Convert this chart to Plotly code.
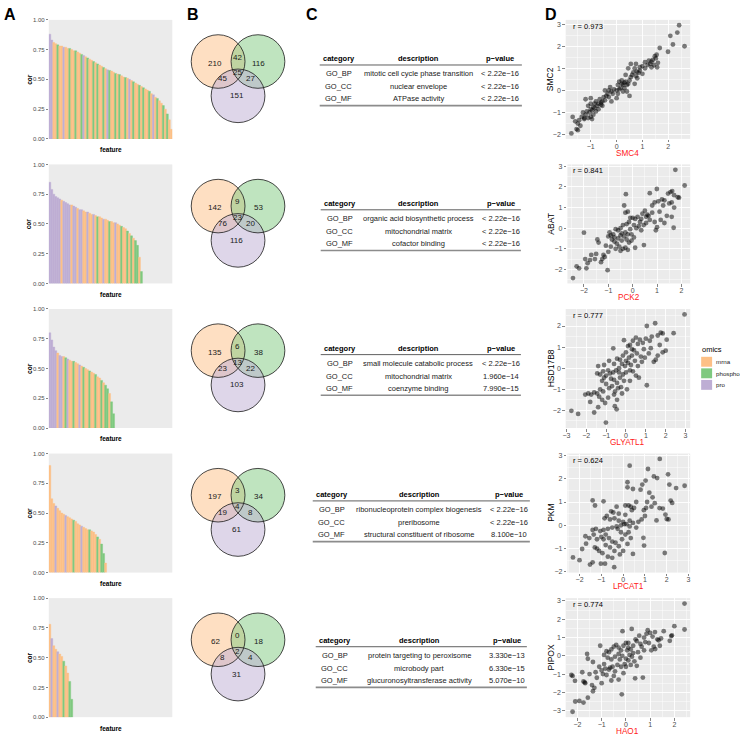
import plotly.graph_objects as go

W, H = 740, 738
FONT = "Liberation Sans, Arial, Helvetica, sans-serif"

# ---------------- data ----------------
omics_levels = ["mrna", "phospho", "pro"]
omics_colors = ["#FDC086", "#7FC97F", "#BEAED4"]

# Panel A: sorted correlations (one bar per group of features), omics code m=mrna g=phospho r=pro
cor_row1 = [0.88, 0.83, 0.81, 0.80, 0.79, 0.78, 0.78, 0.77, 0.77, 0.76,
            0.76, 0.75, 0.74, 0.74, 0.73, 0.72, 0.71, 0.70, 0.69, 0.68,
            0.67, 0.66, 0.65, 0.64, 0.63, 0.62, 0.61, 0.60, 0.59, 0.58,
            0.575, 0.57, 0.56, 0.55, 0.545, 0.54, 0.53, 0.52, 0.515, 0.51,
            0.50, 0.49, 0.48, 0.47, 0.46, 0.45, 0.44, 0.43, 0.42, 0.41,
            0.40, 0.38, 0.37, 0.35, 0.34, 0.32, 0.30, 0.28, 0.25, 0.21,
            0.16, 0.08]
omics_row1 = "rrmmgmmrmmgmmgmmgrmgmmgmgmmgmrgmmgmgmmgmrmgmmgmgmmgmrmgmmgmgmm"

cor_row2 = [0.85, 0.79, 0.75, 0.73, 0.72, 0.71, 0.70, 0.69, 0.68, 0.67,
            0.66, 0.66, 0.65, 0.64, 0.63, 0.62, 0.62, 0.61, 0.60, 0.60,
            0.59, 0.58, 0.58, 0.57, 0.56, 0.56, 0.55, 0.54, 0.54, 0.53,
            0.52, 0.52, 0.51, 0.51, 0.50, 0.49, 0.48, 0.47, 0.46, 0.44,
            0.42, 0.40, 0.38, 0.36, 0.32, 0.22, 0.10]
omics_row2 = "rrrrrrmrrrrmrrmrrmmrmmrmgmmrmmgmmrmmgmmgmgmggmg"

cor_row3 = [0.80, 0.74, 0.68, 0.65, 0.63, 0.61, 0.60, 0.60, 0.59, 0.58,
            0.57, 0.56, 0.56, 0.55, 0.54, 0.53, 0.52, 0.51, 0.50, 0.49,
            0.48, 0.47, 0.46, 0.45, 0.43, 0.42, 0.40, 0.38, 0.36, 0.33,
            0.29, 0.22, 0.12]
omics_row3 = "rrrrmrrmgrmmgmmrmgmmgmmgmmgmggmgg"

cor_row4 = [0.90, 0.62, 0.58, 0.56, 0.54, 0.52, 0.50, 0.49, 0.48, 0.47,
            0.46, 0.45, 0.44, 0.43, 0.41, 0.40, 0.39, 0.38, 0.37, 0.36,
            0.36, 0.35, 0.34, 0.32, 0.30, 0.28, 0.24, 0.16, 0.08]
omics_row4 = "mmmrmmmmrmmmgmmmrmmmgmmmgmggm"

cor_row5 = [0.78, 0.66, 0.60, 0.57, 0.55, 0.53, 0.51, 0.47, 0.43, 0.37,
            0.30, 0.15]
omics_row5 = "mrmmrmmgmmgg"

# Panel B: Venn counts [mrna only, mrna&phospho, phospho only, all, mrna&pro, phospho&pro, pro only]
venn_row1 = [210, 42, 116, 25, 45, 27, 151]
venn_row2 = [142, 9, 53, 23, 76, 20, 116]
venn_row3 = [135, 6, 38, 13, 23, 22, 103]
venn_row4 = [197, 3, 34, 4, 19, 8, 61]
venn_row5 = [62, 0, 18, 2, 8, 4, 31]

# Panel C: GO enrichment tables
go_header = ["category", "description", "p\u2212value"]
go_categories = ["GO_BP", "GO_CC", "GO_MF"]
go_desc_row1 = ["mitotic cell cycle phase transition", "nuclear envelope", "ATPase activity"]
go_p_row1 = ["< 2.22e\u221216", "< 2.22e\u221216", "< 2.22e\u221216"]
go_desc_row2 = ["organic acid biosynthetic process", "mitochondrial matrix", "cofactor binding"]
go_p_row2 = ["< 2.22e\u221216", "< 2.22e\u221216", "< 2.22e\u221216"]
go_desc_row3 = ["small molecule catabolic process", "mitochondrial matrix", "coenzyme binding"]
go_p_row3 = ["< 2.22e\u221216", "1.960e\u221214", "7.990e\u221215"]
go_desc_row4 = ["ribonucleoprotein complex biogenesis", "preribosome", "structural constituent of ribosome"]
go_p_row4 = ["< 2.22e\u221216", "< 2.22e\u221216", "8.100e\u221210"]
go_desc_row5 = ["protein targeting to peroxisome", "microbody part", "glucuronosyltransferase activity"]
go_p_row5 = ["3.330e\u221213", "6.330e\u221215", "5.070e\u221210"]

# Panel D: scatter examples
scatter_x_names = ["SMC4", "PCK2", "GLYATL1", "LPCAT1", "HAO1"]
scatter_y_names = ["SMC2", "ABAT", "HSD17B8", "PKM", "PIPOX"]
scatter_r = ["0.973", "0.841", "0.777", "0.624", "0.774"]

pts_smc4_smc2 = [(2.42,2.95),(2.35,2.62),(2.08,2.47),(2.63,2.0),(2.18,2.08),(1.99,1.75),(1.67,1.92),(1.55,1.62),
    (1.48,1.55),(1.52,1.45),(1.4,1.38),(1.35,1.3),(1.6,1.25),(1.57,1.05),(1.3,1.2),(1.2,1.15),(1.1,1.28),(1.0,1.1),
    (0.9,1.05),(0.75,1.2),(0.7,1.0),(0.78,0.85),(0.85,0.8),(0.65,0.82),(0.6,0.7),(0.55,0.6),(0.75,0.65),(0.8,0.55),
    (0.7,0.3),(0.5,0.45),(0.45,0.3),(0.4,0.25),(0.35,0.4),(0.3,0.35),(0.25,0.25),(0.2,0.3),(0.15,0.1),(0.1,0.05),
    (0.25,-0.05),(0.4,-0.05),(0.5,-0.25),(0.05,-0.15),(0.0,0.0),(-0.1,0.05),(-0.2,-0.05),(-0.3,0.0),(-0.35,-0.15),
    (-0.4,-0.25),(-0.5,-0.3),(-0.45,-0.45),(-0.55,-0.5),(-0.6,-0.55),(-0.65,-0.4),(-0.7,-0.6),(-0.75,-0.7),(-0.8,-0.5),
    (-0.85,-0.8),(-0.9,-0.75),(-0.95,-0.9),(-1.0,-0.85),(-1.05,-1.0),(-1.1,-0.7),(-1.15,-0.95),(-1.2,-1.1),(-1.0,-1.2),
    (-0.9,-1.1),(-1.25,-1.3),(-1.3,-1.0),(-1.35,-1.2),(-1.45,-1.35),(-1.5,-1.5),(-1.4,-1.6),(-1.55,-1.75),(-1.6,-1.4),
    (-1.7,-1.2),(-1.75,-1.95),(-1.5,-1.8),(-0.8,-0.95),(-0.7,-0.85),(-0.6,-0.65),(-1.2,-0.4),(-1.0,-0.35),(-0.3,-0.3),
    (-0.2,-0.5),(0.0,-0.35),(0.1,0.4),(0.2,0.45),(0.35,0.7),(0.45,1.0),(0.55,1.2),(0.9,0.9),(1.0,0.75),(1.1,1.0),
    (1.35,1.05),(1.45,1.15),(1.25,1.35),(-0.25,0.15),(-0.45,0.0),(0.05,0.25),(0.3,0.1),(-0.15,-0.15),(-0.55,-0.7),
    (-0.85,-0.6),(-1.0,-0.6),(-1.1,-1.25),(-1.25,-1.25),(-0.95,-1.3)]

pts_pck2_abat = [(1.75,2.83),(2.13,2.07),(-0.28,1.65),(0.99,1.9),(1.55,1.75),(1.62,1.8),(1.7,1.6),(1.85,1.5),(1.9,1.48),
    (1.45,1.68),(1.3,1.35),(1.2,1.4),(1.05,1.3),(0.9,1.25),(0.7,1.7),(0.8,1.1),(1.6,1.25),(1.5,1.2),(1.7,1.0),(1.6,0.55),
    (1.68,0.02),(1.15,0.4),(1.3,0.25),(0.95,-0.1),(1.1,0.8),(0.6,0.65),(0.55,0.55),(0.65,0.6),(0.5,0.85),(0.4,0.7),
    (0.35,0.45),(0.3,0.3),(0.25,0.1),(0.45,0.15),(0.7,0.4),(0.8,0.75),(0.2,0.55),(0.1,0.45),(0.0,0.5),(-0.1,0.5),
    (-0.2,0.8),(-0.3,0.75),(-0.35,1.1),(-0.15,0.3),(-0.25,0.2),(-0.4,0.15),(-0.5,0.0),(-0.6,-0.1),(-0.7,-0.05),(-0.8,-0.3),
    (-0.9,-0.35),(-1.0,-0.4),(-0.95,-0.2),(-0.85,-0.55),(-0.75,-0.65),(-0.65,-0.75),(-0.55,-0.9),(-0.45,-0.6),(-0.35,-0.4),
    (-0.25,-0.55),(-0.15,-0.7),(-0.05,-0.3),(0.05,-0.45),(0.1,-0.95),(0.46,-0.82),(-0.3,-0.95),(-0.4,-1.0),(-0.2,-1.05),
    (-0.5,-1.1),(-0.7,-1.0),(-0.9,-0.9),(-1.1,-0.85),(-1.0,-1.15),(-1.2,-1.3),(-1.25,-1.5),(-1.3,-1.65),(-1.15,-1.4),
    (-1.5,-1.25),(-1.55,-1.5),(-1.45,-0.55),(-1.4,-0.7),(-1.7,-1.3),(-1.75,-1.55),(-1.85,-1.7),(-1.9,-1.95),(-2.2,-1.95),
    (-2.3,-1.85),(-1.95,-1.5),(-2.0,-0.22),(-2.45,-2.42),(-1.03,-2.04),(-0.6,-0.5),(-0.45,-0.25),(-0.1,-0.05),(0.15,0.0),
    (0.35,-0.1),(0.55,0.25),(0.9,0.3),(1.0,0.05),(1.4,0.6),(1.25,1.1),(-0.5,-0.35),(-0.75,-0.45),(-0.3,-0.2),(0.05,0.15),
    (-0.05,-0.6),(-0.2,-0.3)]

pts_glyatl1_hsd17b8 = [(2.95,2.55),(1.47,2.13),(1.05,2.0),(2.4,1.66),(1.75,1.68),(1.85,1.65),(1.6,1.55),(1.3,1.5),(1.2,1.3),
    (1.0,1.4),(0.85,1.2),(0.6,1.15),(0.5,1.45),(0.35,1.3),(0.2,1.1),(0.1,1.05),(-0.1,1.33),(-0.64,0.94),(2.0,0.83),
    (1.85,0.75),(1.6,0.6),(1.4,0.3),(1.5,0.4),(1.15,0.7),(0.9,0.9),(0.75,0.55),(0.55,0.7),(0.4,0.85),(0.3,0.6),(0.15,0.5),
    (0.0,0.75),(-0.15,0.6),(-0.3,0.4),(-0.45,0.45),(-0.6,0.2),(-0.2,0.2),(-0.05,0.1),(0.1,0.25),(0.25,0.15),(0.45,0.35),
    (0.6,0.1),(0.8,0.3),(0.95,0.5),(1.05,-0.81),(-0.35,0.0),(-0.5,-0.1),(-0.65,-0.2),(-0.8,-0.25),(-0.9,-0.1),(-1.0,-0.35),
    (-1.1,-0.45),(-1.2,-0.6),(-1.3,-0.3),(-1.4,0.1),(-1.45,-0.25),(-0.75,-0.5),(-0.6,-0.55),(-0.45,-0.7),(-0.3,-0.45),
    (-0.15,-0.3),(0.0,-0.2),(-0.25,-0.9),(-0.4,-0.95),(-0.55,-1.1),(-0.7,-0.85),(-0.85,-0.95),(-1.0,-0.75),(-1.15,-1.1),
    (-1.3,-1.0),(-1.45,-1.2),(-1.6,-1.15),(-1.75,-1.25),(-1.9,-1.2),(-2.05,-1.25),(-1.8,-1.6),(-1.35,-1.35),(-1.2,-1.5),
    (-0.9,-1.4),(-1.05,-1.65),(-0.6,-1.25),(-0.45,-1.5),(-0.56,-1.8),(-0.47,-1.95),(-1.6,-2.1),(-2.41,-2.17),(-2.75,-2.02),
    (-1.01,-2.58),(-1.4,-1.85),(0.2,-0.6),(0.35,-0.15),(0.5,-0.35),(0.65,-0.45),(0.2,-0.1),(-0.1,-0.6),(0.05,-1.0),
    (-0.2,-1.2),(0.3,0.9),(0.7,1.35),(1.25,0.95),(1.7,1.1),(2.05,1.35),(-0.85,0.35),(-1.1,0.15),(-1.15,-0.15),(0.0,0.35),
    (-0.35,-0.2)]

pts_lpcat1_pkm = [(1.68,2.85),(0.3,2.56),(1.14,2.42),(2.06,2.19),(1.41,2.1),(1.56,2.03),(1.03,1.92),(2.12,1.75),(2.43,1.6),
    (2.82,1.7),(0.88,1.75),(0.8,1.53),(0.2,1.85),(0.2,1.63),(0.45,1.56),(-1.4,1.07),(-0.9,1.03),(-1.29,0.85),(2.18,1.06),
    (2.25,0.96),(1.2,1.4),(1.35,1.2),(1.45,0.95),(1.3,0.8),(1.05,0.75),(0.95,0.65),(1.1,1.0),(1.67,0.74),(1.82,0.72),
    (1.94,0.46),(1.53,0.21),(2.0,0.27),(2.08,0.25),(1.91,-1.19),(0.93,-0.54),(0.96,-0.87),(0.45,-1.23),(-0.41,-1.8),
    (-2.3,-1.38),(-2.0,-1.5),(-1.88,-1.02),(-1.7,-0.79),(-1.73,-0.47),(-1.52,-1.69),(-1.4,-1.59),(-1.02,-1.65),
    (-0.83,-1.65),(-1.2,-1.0),(-1.1,-1.1),(0.6,1.0),(0.5,0.75),(0.35,0.8),(0.25,0.85),(0.4,0.65),(0.1,0.85),(-0.3,0.8),
    (-0.55,0.6),(-0.75,0.4),(-0.85,0.3),(-0.6,0.25),(-0.4,0.3),(-0.2,0.2),(0.0,0.15),(0.15,0.05),(0.3,0.2),(0.45,0.1),
    (0.6,-0.1),(0.05,0.05),(-0.1,0.0),(-0.3,-0.05),(-0.5,-0.1),(-0.7,-0.15),(-0.9,-0.2),(-1.05,-0.25),(-1.25,-0.15),
    (-1.35,-0.4),(-1.2,-0.6),(-1.0,-0.5),(-0.8,-0.4),(-0.65,-0.55),(-0.5,-0.7),(-0.35,-0.75),(-0.2,-0.9),(-0.05,-0.6),
    (0.1,-0.4),(0.25,-0.3),(0.35,-0.55),(0.2,-0.8),(0.0,-1.1),(-0.15,-1.25),(-0.4,-1.1),(-0.6,-0.95),(-0.8,-0.85),
    (-0.95,-1.2),(-0.7,-1.35),(-0.5,-1.4),(-1.3,-0.95),(-1.55,-0.55),(-1.4,-0.2),(-0.2,0.5),(0.1,0.45),(0.3,-0.05),
    (-0.45,0.55),(-0.9,-0.6),(0.7,0.15),(0.85,0.25),(1.0,0.4),(-0.1,-0.3),(-0.25,-0.15)]

pts_hao1_pipox = [(2.42,2.86),(2.42,1.44),(2.0,1.62),(1.87,1.08),(1.9,1.12),(1.81,0.82),(1.56,1.35),(1.21,0.37),(1.4,0.55),
    (1.3,0.9),(1.35,0.85),(1.45,0.95),(1.2,1.3),(1.1,1.05),(1.0,1.25),(0.9,1.4),(0.85,1.2),(0.8,0.75),(0.75,1.0),
    (0.95,0.7),(1.15,0.5),(0.65,0.5),(0.55,1.1),(0.45,0.8),(0.4,0.9),(0.3,0.55),(0.24,1.47),(-0.14,1.35),(0.2,0.35),
    (0.1,0.7),(0.0,0.7),(-0.1,0.55),(-0.2,0.3),(-0.3,0.45),(-0.4,0.6),(-0.5,0.5),(-0.6,0.35),(-0.7,0.2),(-0.8,0.25),
    (-1.06,0.55),(-0.9,0.05),(-0.75,-0.1),(-0.6,-0.2),(-0.45,-0.05),(-0.3,0.1),(-0.15,0.0),(0.0,-0.15),(0.1,-0.25),
    (0.15,0.05),(0.3,0.15),(0.5,0.2),(0.6,-0.1),(0.35,-0.3),(0.45,-0.55),(0.2,-0.5),(-0.05,-0.45),(-0.2,-0.6),
    (-0.35,-0.5),(-0.55,-0.6),(-0.65,-0.65),(-0.7,-0.75),(-0.85,-0.7),(-1.0,-0.8),(-1.1,-0.6),(-1.25,-0.9),(-0.95,-1.0),
    (-0.8,-1.05),(-0.5,-1.1),(-0.3,-1.3),(-0.1,-0.95),(0.38,-1.23),(0.7,-1.19),(-0.17,-2.11),(-0.6,-1.35),(-1.0,-1.5),
    (-1.2,-1.2),(-1.36,-1.94),(-1.3,-1.75),(-1.4,-1.6),(-1.57,-2.29),(-1.75,-2.56),(-1.92,-2.47),(-2.09,-2.5),
    (-2.2,-3.06),(-1.7,-1.45),(-1.75,-1.4),(-1.68,-1.5),(-2.1,-1.37),(-2.25,-1.05),(-2.2,-1.1),(-1.6,0.1),(-1.57,-0.16),
    (-1.36,-0.34),(-1.8,-0.9),(-1.5,-1.0),(0.05,0.3),(0.25,-0.05),(-0.25,-0.2),(0.6,0.65),(0.75,0.3),(1.05,0.3),
    (-0.45,-0.85),(-0.9,-0.45),(0.0,-0.6),(0.1,0.45)]

cor_rows = [cor_row1, cor_row2, cor_row3, cor_row4, cor_row5]
omics_rows = [omics_row1, omics_row2, omics_row3, omics_row4, omics_row5]
venn_rows = [venn_row1, venn_row2, venn_row3, venn_row4, venn_row5]
desc_rows = [go_desc_row1, go_desc_row2, go_desc_row3, go_desc_row4, go_desc_row5]
p_rows = [go_p_row1, go_p_row2, go_p_row3, go_p_row4, go_p_row5]
pts_rows = [pts_smc4_smc2, pts_pck2_abat, pts_glyatl1_hsd17b8, pts_lpcat1_pkm, pts_hao1_pipox]

# ---------------- layout helpers ----------------
ROW_STEP = 145.75
TOP0 = 17
PANEL_H = 120


def px(x):
    return x / W


def py(y):
    return 1 - y / H


def ydom(i):
    top = TOP0 + ROW_STEP * i
    return [py(top + PANEL_H), py(top)]


code_color = {"m": omics_colors[0], "g": omics_colors[1], "r": omics_colors[2]}

fig = go.Figure()
layout = {}
annotations = []
shapes = []


def ann(x, y, text, size, color="#1a1a1a", xanchor="center", angle=0, bold=False):
    if bold:
        text = "<b>" + text + "</b>"
    annotations.append(dict(x=px(x), y=py(y), xref="paper", yref="paper", text=text, showarrow=False,
                            xanchor=xanchor, yanchor="middle", textangle=angle, borderpad=0,
                            font=dict(family=FONT, size=size, color=color)))


def axis_ticks(r):
    import math
    lo, hi = math.ceil(r[0]), math.floor(r[1])
    major = list(range(lo, hi + 1))
    minor = [v + 0.5 for v in range(lo - 1, hi + 1) if r[0] < v + 0.5 < r[1]]
    return major, minor


scatter_left = [565, 566.7, 565, 566.7, 565]

for i in range(5):
    top = TOP0 + ROW_STEP * i
    # ---- Panel A bars ----
    a = 2 * i + 1
    xn = "x" if a == 1 else f"x{a}"
    yn = "y" if a == 1 else f"y{a}"
    vals = cor_rows[i]
    codes = omics_rows[i].ljust(len(vals), "m")[:len(vals)]
    cols = [code_color[c] for c in codes]
    fig.add_trace(go.Bar(x=list(range(1, len(vals) + 1)), y=vals, width=1,
                         marker=dict(color=cols, line=dict(width=0.4, color=cols)),
                         xaxis=xn, yaxis=yn, showlegend=False, hoverinfo="skip"))
    layout["xaxis" if a == 1 else f"xaxis{a}"] = dict(
        domain=[px(46), px(170)], range=[0.5, len(cor_row1) + 0.5], showticklabels=False,
        ticks="", showgrid=False, zeroline=False, anchor=yn, fixedrange=True)
    layout["yaxis" if a == 1 else f"yaxis{a}"] = dict(
        domain=ydom(i), range=[0, 1], tickvals=[0, 0.25, 0.5, 0.75, 1],
        ticktext=["0.00", "0.25", "0.50", "0.75", "1.00"], ticks="outside", ticklen=2,
        tickwidth=0.6, tickcolor="#333333", tickfont=dict(family=FONT, size=6, color="#4D4D4D"),
        showgrid=False, zeroline=False, anchor=xn, fixedrange=True)
    ann(26.5, top + 60, "cor", 6.5, color="#000000", angle=-90, bold=True)
    ann(108, top + 131, "feature", 6.5, color="#000000", bold=True)

    # ---- Panel D scatter ----
    b = 2 * i + 2
    xs = [p[0] for p in pts_rows[i]]
    ys = [p[1] for p in pts_rows[i]]
    xr = [min(xs) - 0.05 * (max(xs) - min(xs)), max(xs) + 0.05 * (max(xs) - min(xs))]
    yr = [min(ys) - 0.05 * (max(ys) - min(ys)), max(ys) + 0.05 * (max(ys) - min(ys))]
    fig.add_trace(go.Scatter(x=xs, y=ys, mode="markers",
                             marker=dict(size=4.8, color="rgba(0,0,0,0.5)", line=dict(width=0)),
                             xaxis=f"x{b}", yaxis=f"y{b}", showlegend=False, hoverinfo="skip"))
    mx, mnx = axis_ticks(xr)
    my, mny = axis_ticks(yr)
    common = dict(ticks="outside", ticklen=2.5, tickwidth=0.6, tickcolor="#333333",
                  tickfont=dict(family=FONT, size=7, color="#4D4D4D"), showgrid=True,
                  gridcolor="#FFFFFF", gridwidth=0.9, zeroline=False, fixedrange=True)
    layout[f"xaxis{b}"] = dict(domain=[px(scatter_left[i]), px(690)], range=xr, tickvals=mx,
                               ticklabelstandoff=-2,
                               minor=dict(tickvals=mnx, showgrid=True, gridcolor="#FFFFFF", gridwidth=0.45, ticks=""),
                               anchor=f"y{b}", **common)
    layout[f"yaxis{b}"] = dict(domain=ydom(i), range=yr, tickvals=my,
                               minor=dict(tickvals=mny, showgrid=True, gridcolor="#FFFFFF", gridwidth=0.45, ticks=""),
                               anchor=f"x{b}", **common)
    ann(550, top + 60, scatter_y_names[i], 8.5, color="#000000", angle=-90)
    ann((scatter_left[i] + 690) / 2, top + 134.5, scatter_x_names[i], 8.2, color="#FF2020")
    ann(571.5, top + 6.5, "r = " + scatter_r[i], 7.5, color="#000000", xanchor="left")

    # ---- Panel B Venn ----
    off = ROW_STEP * i
    r = 27
    centers = [(216, 59 + off), (256, 59 + off), (236, 93.6 + off)]
    for (cx, cy), col in zip(centers, omics_colors):
        shapes.append(dict(type="circle", xref="paper", yref="paper", x0=px(cx - r), x1=px(cx + r),
                           y0=py(cy + r), y1=py(cy - r), fillcolor=col, opacity=0.5, line=dict(width=0)))
    for (cx, cy) in centers:
        shapes.append(dict(type="circle", xref="paper", yref="paper", x0=px(cx - r), x1=px(cx + r),
                           y0=py(cy + r), y1=py(cy - r), line=dict(color="#1a1a1a", width=0.8)))
    label_pos = [(213, 60.5), (235, 54.5), (257, 60.5), (235, 70.5), (220, 76.5), (249, 76.5), (234.5, 93.5)]
    for (lx, ly), cnt in zip(label_pos, venn_rows[i]):
        ann(lx, ly + off, str(cnt), 8)

# ---- Panel C tables ----
table_cfg = [  # header_y, x_left, x_right, cat_x, desc_x, p_x
    (56, 318, 521, 337, 417, 499.5),
    (202, 319, 520, 338, 417, 500),
    (348, 319, 520, 338, 417, 500),
    (495.5, 311, 529, 330, 418, 508),
    (642.5, 314, 526, 333, 418, 506),
]
for i, (hy, xl, xr_, cx_, dx_, px_) in enumerate(table_cfg):
    ann(cx_, hy, go_header[0], 7.5, color="#000000", bold=True)
    ann(dx_, hy, go_header[1], 7.5, color="#000000", bold=True)
    ann(px_, hy, go_header[2], 7.5, color="#000000", bold=True)
    shapes.append(dict(type="line", xref="paper", yref="paper", x0=px(xl), x1=px(xr_),
                       y0=py(hy + 6.5), y1=py(hy + 6.5), line=dict(color="#4D4D4D", width=0.9)))
    for k in range(3):
        ry = hy + 15.5 + 12.6 * k
        ann(cx_, ry, go_categories[k], 7.5)
        ann(dx_, ry, desc_rows[i][k], 7.5)
        ann(px_, ry, p_rows[i][k], 7.5)
    shapes.append(dict(type="line", xref="paper", yref="paper", x0=px(xl), x1=px(xr_),
                       y0=py(hy + 47.5), y1=py(hy + 47.5), line=dict(color="#8C8C8C", width=1.6)))

# ---- legend ----
ann(700.5, 349.3, "omics", 7.5, color="#000000", xanchor="left")
for k, (lab, col) in enumerate(zip(omics_levels, omics_colors)):
    cy = 361.7 + 11.65 * k
    shapes.append(dict(type="rect", xref="paper", yref="paper", x0=px(701), x1=px(712),
                       y0=py(cy + 5), y1=py(cy - 5), fillcolor=col, line=dict(width=0)))
    ann(715, cy, lab, 6.2, color="#1a1a1a", xanchor="left")

# ---- panel letters ----
for letter, lx in zip(["A", "B", "C", "D"], [7, 191, 310, 550]):
    ann(lx, 12, letter, 16, color="#000000", bold=True)

fig.update_layout(**layout)
fig.update_layout(width=W, height=H, autosize=False, margin=dict(l=0, r=0, t=0, b=0, pad=0),
                  paper_bgcolor="#FFFFFF", plot_bgcolor="#EBEBEB", bargap=0, barmode="overlay",
                  annotations=annotations, shapes=shapes, showlegend=False,
                  font=dict(family=FONT))

fig.write_html("out.html", config={"displayModeBar": False, "staticPlot": True},
               post_script="document.body.style.margin='0';document.body.style.overflow='hidden';")
